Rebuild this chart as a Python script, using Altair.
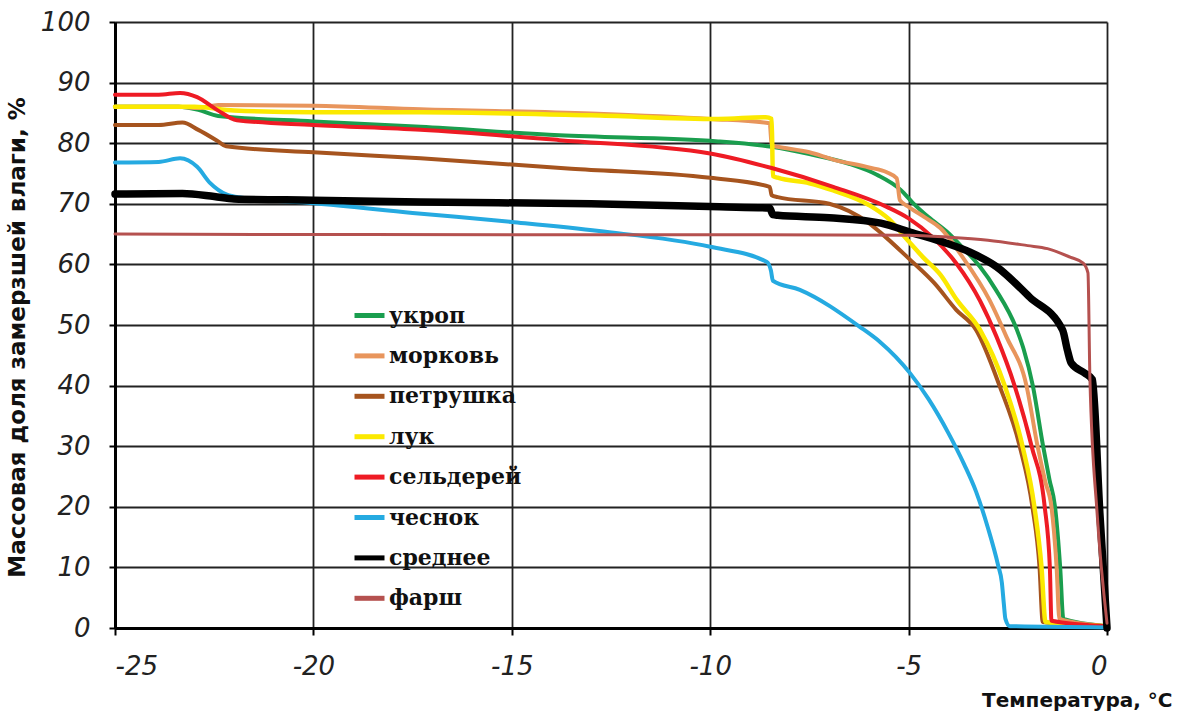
import altair as alt
import pandas as pd

names = ["укроп", "морковь", "петрушка", "лук", "сельдерей", "чеснок", "среднее", "фарш"]
colors = ["#1a9e4e", "#e8955c", "#a6541e", "#fbe900", "#ee1b24", "#25aae1", "#000000", "#b5514f"]
widths = [4, 4, 4, 4.5, 4, 4, 7.5, 3]

ukrop_x = [-25, -23.4, -22.9, -22.4, -20, -17.3, -13.8, -9.8, -8.45, -7.5, -6.5, -5.8, -5.2, -4.9, -4.5, -4.0, -3.6, -3.2, -2.8, -2.27, -2.1, -1.87, -1.61, -1.45, -1.31, -1.18, -1.1, 0]
ukrop_y = [86, 86, 85.5, 84.5, 83.6, 82.7, 81.3, 80.3, 79.4, 78.2, 76.6, 74.8, 72.3, 70.2, 67.8, 65.2, 62.5, 59.6, 55.8, 49.2, 46, 40, 30, 24.5, 20, 10, 1.5, 0.3]

morkov_x = [-25, -23.4, -22.9, -22.4, -20, -17.3, -13, -10, -8.5, -8.45, -8.3, -7.5, -6.9, -6.0, -5.55, -5.3, -5.22, -5.0, -4.6, -4.2, -3.64, -2.96, -2.53, -2.03, -1.75, -1.55, -1.4, -1.27, -1.2, 0]
morkov_y = [86, 86, 85.8, 86.3, 86.2, 85.6, 84.9, 84, 83.3, 79.6, 79.4, 78.5, 77.3, 76, 75.2, 74.2, 70.6, 69.5, 67.8, 66, 61.2, 54.1, 48, 40, 30, 24, 20, 10, 1.5, 0.3]

petr_x = [-25, -23.9, -23.3, -22.9, -22.4, -22.2, -20, -17.3, -13.5, -10, -8.5, -8.45, -8.3, -7, -6, -5.7, -5, -4.35, -3.8, -3.3, -2.71, -2.2, -1.88, -1.7, -1.62, 0]
petr_y = [83, 83, 83.4, 82.2, 80.3, 79.5, 78.5, 77.5, 75.8, 74.3, 72.8, 71.4, 71.1, 70, 66.8, 65.2, 61, 56.9, 52.5, 49.2, 40, 30, 20, 10, 1, 0.3]

luk_x = [-25, -23, -22, -20, -17.3, -13, -9.8, -8.6, -8.45, -8.42, -8.3, -7.5, -6.9, -6.0, -5.5, -5.0, -4.64, -4.2, -3.78, -3.2, -2.58, -2.13, -1.83, -1.65, -1.55, 0]
luk_y = [86, 86, 85.4, 85.1, 85.1, 84.6, 84, 84.3, 84, 74.6, 74.3, 73.4, 72.2, 69.8, 67.5, 63.8, 61.2, 58.3, 54.1, 49.2, 40, 30, 20, 10, 1, 0.3]

seld_x = [-25, -23.9, -23.36, -22.93, -22.43, -21.93, -20, -17.3, -13.8, -10, -8.45, -6.9, -5.55, -5.0, -4.4, -3.8, -3.2, -2.78, -2.33, -1.9, -1.57, -1.44, -1.4, 0]
seld_y = [88, 88, 88.3, 87.6, 85.5, 83.8, 83.0, 82.2, 80.5, 78.3, 75.9, 72.8, 69.5, 67.6, 64.5, 60.2, 54, 48, 40, 30, 20, 10, 1.2, 0.3]

chesn_x = [-25, -23.9, -23.36, -22.93, -22.6, -22.18, -21.8, -20, -17.5, -15, -12.8, -10, -8.57, -8.47, -8.42, -7.74, -6.23, -5.72, -4.97, -4.5, -4.0, -3.6, -3.3, -3.0, -2.75, -2.65, -2.6, -2.56, -2.45, 0]
chesn_y = [76.8, 76.9, 77.5, 76.1, 73.4, 71.5, 71, 70.1, 68.5, 67, 65.5, 62.9, 60.4, 59, 57.3, 55.8, 49.7, 47.2, 42.1, 37.8, 32.2, 27, 22.5, 16.5, 10.5, 7.5, 4, 1.5, 0.3, 0.1]

sred_x = [-25, -23.3, -22.5, -22, -20, -17.3, -13, -9.76, -8.5, -8.42, -8.3, -7, -5.7, -4.9, -4.05, -3.45, -2.78, -1.95, -1.12, -1.0, -0.9, -0.57, -0.37, -0.18, 0]
sred_y = [71.6, 71.7, 71.2, 70.8, 70.6, 70.3, 70, 69.5, 69.3, 68.2, 68.1, 67.7, 66.8, 65.2, 63.5, 62, 59.6, 54.6, 49.2, 45.9, 43.7, 42.1, 41, 19, 0]

farsh_x = [-25, -15, -10, -5, -4, -3, -2, -1.5, -0.93, -0.6, -0.48, -0.43, -0.25, 0]
farsh_y = [65, 64.9, 64.9, 64.8, 64.5, 64, 63.1, 62.6, 61.2, 60.2, 58.6, 41, 19, 0.8]

series_x = [ukrop_x, morkov_x, petr_x, luk_x, seld_x, chesn_x, sred_x, farsh_x]
series_y = [ukrop_y, morkov_y, petr_y, luk_y, seld_y, chesn_y, sred_y, farsh_y]

x_ticks = [-25, -20, -15, -10, -5, 0]
y_ticks = [0, 10, 20, 30, 40, 50, 60, 70, 80, 90, 100]

rows = []
for name, xs, ys in zip(names, series_x, series_y):
    for i, (xv, yv) in enumerate(zip(xs, ys)):
        rows.append({"series": name, "x": xv, "y": yv, "i": i})
df = pd.DataFrame(rows)

x_enc = alt.X("x:Q", scale=alt.Scale(domain=[-25, 0], nice=False),
              axis=alt.Axis(values=x_ticks, title="Температура, °C",
                            labelExpr="'' + datum.value",
                            titleX=1057, titleY=72, titleAlign="right", titleBaseline="middle",
                            labelPadding=18, tickSize=7))
y_enc = alt.Y("y:Q", scale=alt.Scale(domain=[0, 100], nice=False),
              axis=alt.Axis(values=y_ticks, title="Массовая доля замерзшей влаги, %",
                            labelExpr="'' + datum.value",
                            titleX=-98, titleY=315, titleAngle=-90, titleAlign="center",
                            titleBaseline="middle", labelPadding=19, tickSize=6))
c_enc = alt.Color("series:N", scale=alt.Scale(domain=names, range=colors), title=None)

base = alt.Chart(df).encode(x=x_enc, y=y_enc, color=c_enc, order=alt.Order("i:Q"))

layers = []
for name, w in zip(names, widths):
    layers.append(
        base.transform_filter(alt.datum.series == name).mark_line(
            strokeWidth=w, strokeCap="round", strokeJoin="round", interpolate="monotone"
        )
    )

chart = alt.layer(*layers).properties(
    width=992, height=606,
    autosize=alt.AutoSizeParams(type="none"),
    padding={"left": 115, "top": 22, "right": 80, "bottom": 99},
    background="white",
).configure_view(
    strokeWidth=0
).configure_axis(
    labelFont="DejaVu Sans", labelFontStyle="italic", labelFontSize=26, labelColor="#222",
    titleFont="DejaVu Sans", titleFontWeight="bold", titleFontSize=20, titleColor="#111",
    gridColor="#222", gridWidth=1.8, gridOpacity=1,
    domainColor="#000", domainWidth=3, tickColor="#000", tickWidth=2,
).configure_axisY(
    titleFontSize=23
).configure_legend(
    orient="none", legendX=237, legendY=276,
    symbolType="stroke", symbolSize=900, symbolStrokeWidth=5,
    labelFont="DejaVu Serif", labelFontWeight="bold", labelFontSize=22, labelColor="#111",
    rowPadding=11.4, labelOffset=2, padding=0,
)

chart.save("out.html", embed_options={"renderer": "svg", "actions": False})
